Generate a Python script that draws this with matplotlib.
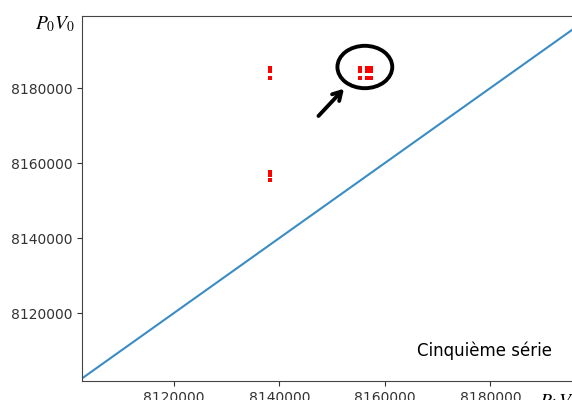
import matplotlib
matplotlib.use("Agg")
import matplotlib.pyplot as plt
from matplotlib.patches import Ellipse

plt.rcParams['mathtext.fontset'] = 'stix'

# Data: (P1V1, P0V0) measurements
p1v1 = [8138200, 8138200, 8138200,
        8155350, 8155350, 8155350,
        8156700, 8156700, 8156700,
        8157450, 8157450, 8157450,
        8138200, 8138200, 8138200]
p0v0 = [8185330, 8184530, 8182670,
        8185330, 8184530, 8182670,
        8185330, 8184530, 8182670,
        8185330, 8184530, 8182670,
        8157470, 8156800, 8155470]

# Reference line P0V0 = P1V1
line_x = [8100000, 8200000]
line_y = [8100000, 8200000]

xlim = (8102560, 8198900)
ylim = (8101870, 8199200)
xticks = [8120000, 8140000, 8160000, 8180000]
yticks = [8120000, 8140000, 8160000, 8180000]

fig = plt.figure(figsize=(5.72, 4.0), dpi=100)
ax = fig.add_axes([82/572, 19/400, (590-82)/572, (381-16)/400])

ax.plot(line_x, line_y, color='#3a8cc4', linewidth=1.5)
ax.plot(p1v1, p0v0, linestyle='none', marker='s', markersize=2.3,
        color='#ff0000', markeredgewidth=0)

ax.set_xlim(*xlim)
ax.set_ylim(*ylim)
ax.set_xticks(xticks)
ax.set_yticks(yticks)
ax.set_xticklabels([str(v) for v in xticks])
ax.set_yticklabels([str(v) for v in yticks])
ax.tick_params(labelsize=10, colors='#333333')
for s in ax.spines.values():
    s.set_color('#444444')

# Hand-drawn style annotation: circle + arrow
ell = Ellipse((8156200, 8185600), width=10400, height=11300, angle=0,
              fill=False, edgecolor='black', linewidth=2.8)
ax.add_patch(ell)
ax.annotate('', xy=(8152600, 8180350), xytext=(8147050, 8172000),
            arrowprops=dict(arrowstyle='->,head_length=0.6,head_width=0.35',
                            color='black', linewidth=2.8))

fig.text(417/572, (400-356)/400, 'Cinquième série', fontsize=12,
         ha='left', va='baseline', color='black')
fig.text(35/572, (400-24)/400, r'$P_0V_0$', fontsize=14, ha='left', va='center')
fig.text(539/572, (400-392)/400, r'$P_1V_1$', fontsize=14, ha='left', va='top')

fig.savefig('out.png', dpi=100)
